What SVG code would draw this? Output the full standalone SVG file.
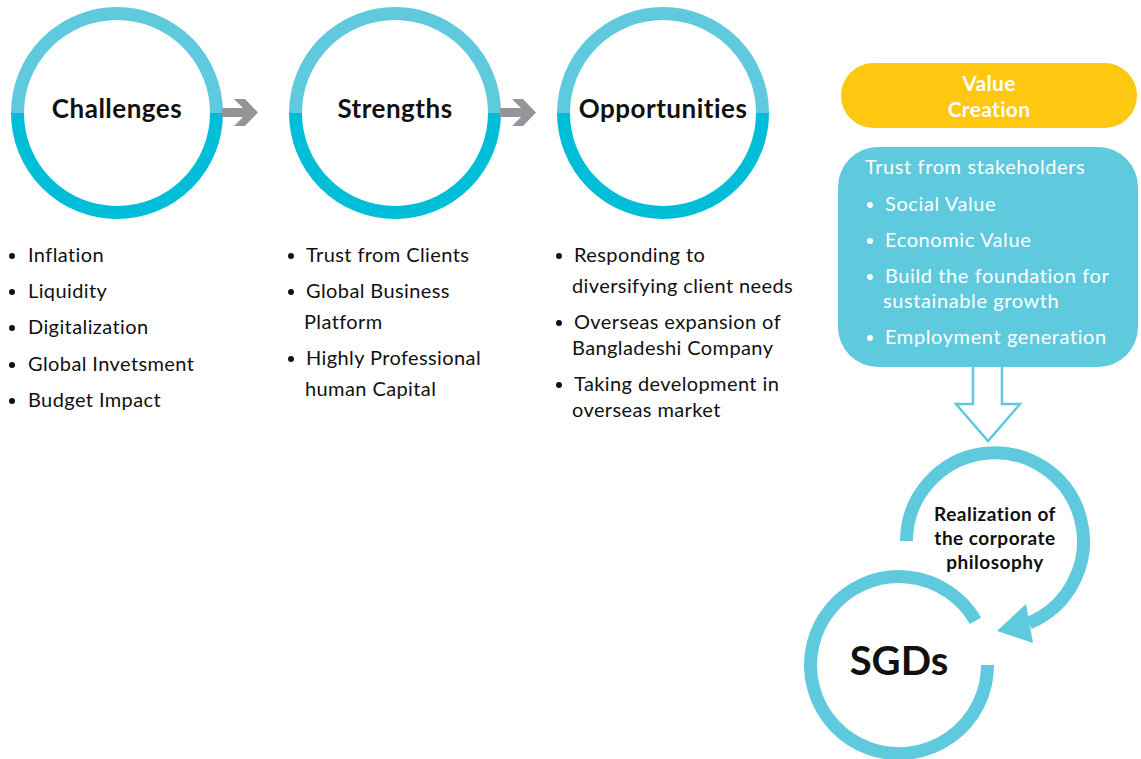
<svg xmlns="http://www.w3.org/2000/svg" width="1141" height="759" viewBox="0 0 1141 759">
<defs>
<style>
text{font-family:Lato,"Liberation Sans",sans-serif;}
.ring-top{fill:none;stroke:#5FC9DE;stroke-width:13;}
.ring-bot{fill:none;stroke:#00BED8;stroke-width:13;}
.ring{fill:none;stroke:#5FC9DE;stroke-width:13;}
.title{font-size:26px;font-weight:bold;fill:#111;text-anchor:middle;letter-spacing:0.5px;}
.item{font-size:20px;fill:#111;letter-spacing:0.4px;}
.witem{font-size:20px;fill:#fff;letter-spacing:0.6px;}
.dot{fill:#111;}
.wdot{fill:#fff;}
.gray{fill:#939598;}
.vc{font-size:21px;font-weight:bold;fill:#fff;text-anchor:middle;letter-spacing:0.3px;}
.rz{font-size:19px;font-weight:bold;fill:#111;text-anchor:middle;letter-spacing:0.5px;}
</style>
</defs>
<rect width="1141" height="759" fill="#fff"/>

<g id="challenges">
<path class="ring-top" d="M17.5,113 A99.5,99.5 0 0 1 216.5,113"/>
<path class="ring-bot" d="M17.5,113 A99.5,99.5 0 0 0 216.5,113"/>
<text class="title" x="117" y="118">Challenges</text>
</g>
<g id="strengths">
<path class="ring-top" d="M295.5,113 A99.5,99.5 0 0 1 494.5,113"/>
<path class="ring-bot" d="M295.5,113 A99.5,99.5 0 0 0 494.5,113"/>
<text class="title" x="395" y="118">Strengths</text>
</g>
<g id="opportunities">
<path class="ring-top" d="M563.5,113 A99.5,99.5 0 0 1 762.5,113"/>
<path class="ring-bot" d="M563.5,113 A99.5,99.5 0 0 0 762.5,113"/>
<text class="title" x="663" y="118">Opportunities</text>
</g>

<g id="challenges-list">
<circle class="dot" cx="12" cy="256" r="3"/><text class="item" x="28" y="262">Inflation</text>
<circle class="dot" cx="12" cy="292" r="3"/><text class="item" x="28" y="298">Liquidity</text>
<circle class="dot" cx="12" cy="328" r="3"/><text class="item" x="28" y="334">Digitalization</text>
<circle class="dot" cx="12" cy="365" r="3"/><text class="item" x="28" y="371">Global Invetsment</text>
<circle class="dot" cx="12" cy="401" r="3"/><text class="item" x="28" y="407">Budget Impact</text>
</g>
<g id="strengths-list">
<circle class="dot" cx="291" cy="256" r="3"/><text class="item" x="306" y="262">Trust from Clients</text>
<circle class="dot" cx="291" cy="292" r="3"/><text class="item" x="306" y="298">Global Business</text>
<text class="item" x="304" y="329">Platform</text>
<circle class="dot" cx="291" cy="359" r="3"/><text class="item" x="306" y="365">Highly Professional</text>
<text class="item" x="305" y="396">human Capital</text>
</g>
<g id="opportunities-list">
<circle class="dot" cx="559" cy="256" r="3"/><text class="item" x="574" y="262">Responding to</text>
<text class="item" x="572" y="293">diversifying client needs</text>
<circle class="dot" cx="559" cy="323" r="3"/><text class="item" x="574" y="329">Overseas expansion of</text>
<text class="item" x="572" y="355">Bangladeshi Company</text>
<circle class="dot" cx="559" cy="385" r="3"/><text class="item" x="574" y="391">Taking development in</text>
<text class="item" x="572" y="417">overseas market</text>
</g>

<g id="value-creation">
<rect x="841" y="63" width="296" height="65" rx="32.5" fill="#FDC80F"/>
<text class="vc" x="989" y="91">Value</text>
<text class="vc" x="989" y="117">Creation</text>
</g>

<g id="trust-box">
<rect x="838" y="147" width="300" height="220" rx="40" fill="#5FC9DE"/>
<text class="witem" x="865" y="174">Trust from stakeholders</text>
<circle class="wdot" cx="870" cy="205" r="3"/><text class="witem" x="885" y="211">Social Value</text>
<circle class="wdot" cx="870" cy="241" r="3"/><text class="witem" x="885" y="247">Economic Value</text>
<circle class="wdot" cx="870" cy="277" r="3"/><text class="witem" x="885" y="283">Build the foundation for</text>
<text class="witem" x="883" y="308">sustainable growth</text>
<circle class="wdot" cx="870" cy="338" r="3"/><text class="witem" x="885" y="344">Employment generation</text>
</g>

<g id="realization">
<path class="ring" d="M906.5,541 A88.5,88.5 0 1 1 1029,623"/>
<polygon fill="#5FC9DE" points="997,631 1026,604 1033,643"/>
<text class="rz" x="995" y="521">Realization of</text>
<text class="rz" x="995" y="545">the corporate</text>
<text class="rz" x="995" y="569">philosophy</text>
</g>

<g id="sgds">
<path class="ring" d="M987.5,665 A88.5,88.5 0 1 1 975.6,620.8"/>
<text x="899" y="675" font-size="40" font-weight="bold" fill="#111" text-anchor="middle">SGDs</text>
</g>

<g id="connectors">
<polygon class="gray" points="222,108 243,108 234,99 245,99 258,112.5 245,126 234,126 243,117 222,117"/>
<polygon class="gray" points="500,108 521,108 512,99 523,99 536,112.5 523,126 512,126 521,117 500,117"/>
<path d="M973,367 L973,404 L956,404 L988,441 L1020,404 L1002,404 L1002,367" fill="#fff" stroke="#5FC9DE" stroke-width="2.5"/>
</g>
</svg>
